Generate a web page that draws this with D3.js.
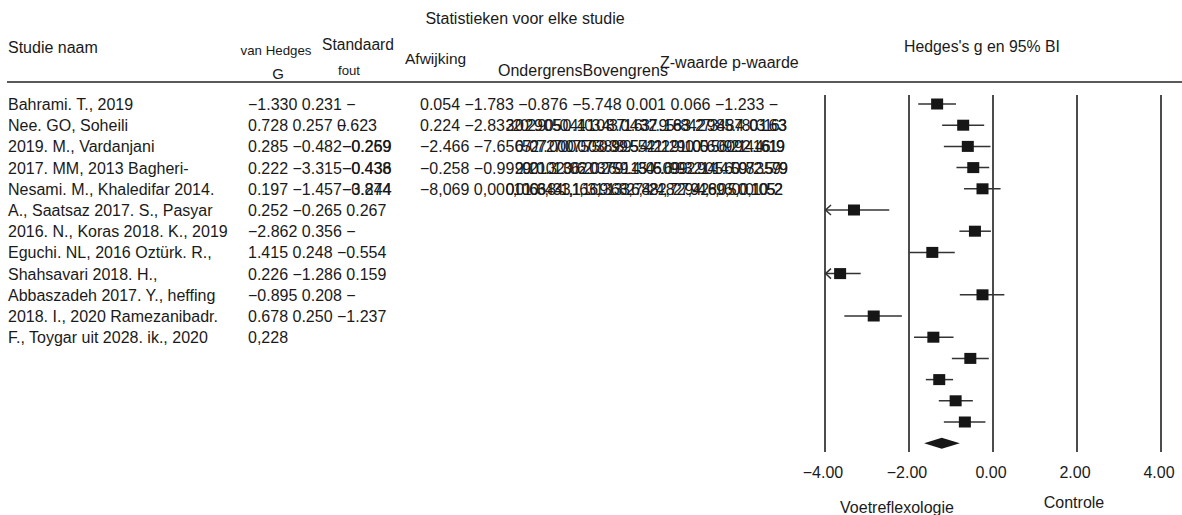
<!DOCTYPE html>
<html>
<head>
<meta charset="utf-8">
<script src="https://cdn.jsdelivr.net/npm/d3@7"></script>
<style>
  body { margin: 0; background: #fff; }
  svg text { font-family: "Liberation Sans", Arial, sans-serif; fill: #1a1a1a; }
</style>
</head>
<body>
<svg id="forest"></svg>
<script>
const width = 1182;
const height = 515;

// study labels (left column, as printed)
const studyNames = [
  'Bahrami. T., 2019', 'Nee. GO, Soheili', '2019. M., Vardanjani', '2017. MM, 2013 Bagheri-',
  'Nesami. M., Khaledifar 2014.', 'A., Saatsaz 2017. S., Pasyar', '2016. N., Koras 2018. K., 2019',
  'Eguchi. NL, 2016 Oztürk. R.,', 'Shahsavari 2018. H.,', 'Abbaszadeh 2017. Y., heffing',
  '2018. I., 2020 Ramezanibadr.', 'F., Toygar uit 2028. ik., 2020'
];

// first statistics block: printed prefix + overprinted endings
const statsAPrefix = [
  '−1.330 0.231 −', '0.728 0.257 ', '0.285 −0.482', '0.222 −3.315', '0.197 −1.457', '0.252 −0.265 0.267',
  '−2.862 0.356 −', '1.415 0.248 −0.554', '0.226 −1.286 0.159', '−0.895 0.208 −', '0.678 0.250 −1.237', '0,228'
];
const statsAEnds = [
  [], ['0.623', '−'], ['−0.269', '−0.259'], ['−0.438', '−0.436'], ['−0.874', '−3.244'], [],
  [], [], [], [], [], []
];

// second statistics block: clean prefix + two overprinted tails
const statsBPrefix = ['0.054 −1.783 −0.876 −5.748 0.001 0.066 −1.233 −', '0.224 −2.83', '−2.466 −7.65', '−0.258 −0.99', '−8,069 0,00'];
const statsBTails = [
  [],
  ['2029050.4108.0437.163.29884.0163', '3202.9050.4103.4371.632.9588427345.7803163'],
  ['0727.0007503899.5542129100.56092.1619', '6507.2700.0750.3895.4212.910056.09214.4619'],
  ['2001.32062.03759.1345.6992.9014.5072.579', '9920.01.30620.2691.4506.0993.2145.6098.3.599'],
  ['01063431,163136827482,7294289600,1052', '0,0106,843,1,16,9133,6,824,827,94,6,0,5,001052']
];
const tailEnds = [0, 787, 785, 788, 783];

// forest plot values: Hedges's g and 95% CI
const hedgesG = [-1.33, -0.71, -0.60, -0.47, -0.25, -3.31, -0.43, -1.445, -3.64, -0.25, -2.84, -1.42, -0.54, -1.28, -0.89, -0.67];
const lowerCI = [-1.78, -1.21, -1.17, -0.87, -0.69, -4.16, -0.80, -1.99, -4.13, -0.79, -3.54, -1.88, -0.98, -1.60, -1.29, -1.17];
const upperCI = [-0.88, -0.21, -0.06, -0.09, 0.18, -2.47, -0.05, -0.91, -3.15, 0.27, -2.17, -0.94, -0.10, -0.95, -0.48, -0.18];
const summary = { g: -1.22, lower: -1.64, upper: -0.79 };

const xTicks = [-4, -2, 0, 2, 4];

const svg = d3.select('#forest')
  .attr('width', width)
  .attr('height', height);

// scales
const xScale = d3.scaleLinear().domain([-4, 4]).range([825, 1161]);
const yScale = d3.scaleLinear().domain([0, 16]).range([104, 443.2]);

// header
svg.append('text').attr('x', 525).attr('y', 24).attr('text-anchor', 'middle')
  .attr('font-size', 16).text('Statistieken voor elke studie');
svg.append('text').attr('x', 8).attr('y', 53).attr('font-size', 16).text('Studie naam');
svg.append('text').attr('x', 276).attr('y', 55).attr('text-anchor', 'middle').attr('font-size', 13.3).text('van Hedges');
svg.append('text').attr('x', 278).attr('y', 79).attr('text-anchor', 'middle').attr('font-size', 15).text('G');
svg.append('text').attr('x', 358).attr('y', 50).attr('text-anchor', 'middle').attr('font-size', 15.6).text('Standaard');
svg.append('text').attr('x', 349).attr('y', 75).attr('text-anchor', 'middle').attr('font-size', 13.2).text('fout');
svg.append('text').attr('x', 405).attr('y', 64).attr('font-size', 15.5).text('Afwijking');
svg.append('text').attr('x', 498).attr('y', 76).attr('font-size', 16).text('OndergrensBovengrens');
svg.append('text').attr('x', 660).attr('y', 68).attr('font-size', 16).text('Z-waarde p-waarde');
svg.append('text').attr('x', 982).attr('y', 52).attr('text-anchor', 'middle').attr('font-size', 15.8).text("Hedges's g en 95% BI");

svg.append('line').attr('x1', 7).attr('x2', width).attr('y1', 82).attr('y2', 82)
  .attr('stroke', '#5a5a5a').attr('stroke-width', 2);

// study names
svg.selectAll('.name').data(studyNames).enter().append('text')
  .attr('class', 'name')
  .attr('x', 8).attr('y', (d, i) => yScale(i) + 6)
  .attr('font-size', 16).text(d => d);

// first stats block: prefix drawn once, endings overprinted
statsAPrefix.forEach((p, i) => {
  const ends = statsAEnds[i].length ? statsAEnds[i] : [''];
  ends.forEach((e, k) => {
    const t = svg.append('text')
      .attr('x', 248 + k * 0.3).attr('y', yScale(i) + 6)
      .attr('font-size', 16).attr('xml:space', 'preserve');
    t.append('tspan').attr('fill-opacity', k === 0 ? 1 : 0).text(p);
    t.append('tspan').text(e);
  });
});

// second stats block
statsBPrefix.forEach((p, i) => {
  const t = svg.append('text').attr('x', 420).attr('y', yScale(i) + 6).attr('font-size', 16).text(p);
  const start = 420 + t.node().getComputedTextLength();
  svg.selectAll(null).data(statsBTails[i]).enter().append('text')
    .attr('x', start + 0.5).attr('y', yScale(i) + 6)
    .attr('font-size', 16)
    .attr('textLength', tailEnds[i] - start - 0.5)
    .attr('lengthAdjust', 'spacing')
    .text(d => d);
});

// vertical reference lines
svg.selectAll('.vline').data(xTicks).enter().append('line')
  .attr('x1', d => xScale(d)).attr('x2', d => xScale(d))
  .attr('y1', 95).attr('y2', 452)
  .attr('stroke', '#111').attr('stroke-width', 1.5);

// tick labels
svg.selectAll('.tick').data(xTicks).enter().append('text')
  .attr('x', d => xScale(d) - 2).attr('y', 478)
  .attr('text-anchor', 'middle').attr('font-size', 16)
  .text(d => d3.format('.2f')(d).replace('-', '−'));

svg.append('text').attr('x', 897).attr('y', 513).attr('text-anchor', 'middle').attr('font-size', 16).text('Voetreflexologie');
svg.append('text').attr('x', 1074).attr('y', 508).attr('text-anchor', 'middle').attr('font-size', 16).text('Controle');

// confidence intervals
const rows = hedgesG.map((g, i) => ({ g, lo: lowerCI[i], hi: upperCI[i], i }));
const xMin = xScale.domain()[0];

svg.selectAll('.ci').data(rows).enter().append('line')
  .attr('x1', d => xScale(Math.max(d.lo, xMin))).attr('x2', d => xScale(d.hi))
  .attr('y1', d => yScale(d.i)).attr('y2', d => yScale(d.i))
  .attr('stroke', '#333').attr('stroke-width', 1.5);

// arrowheads for clipped intervals
svg.selectAll('.arrow').data(rows.filter(d => d.lo < xMin)).enter().append('path')
  .attr('d', d => {
    const x = xScale(xMin), y = yScale(d.i);
    return `M${x + 6},${y - 5} L${x + 0.5},${y} L${x + 6},${y + 5}`;
  })
  .attr('fill', 'none').attr('stroke', '#333').attr('stroke-width', 1.5);

// squares
svg.selectAll('.box').data(rows).enter().append('rect')
  .attr('x', d => xScale(d.g) - 6).attr('y', d => yScale(d.i) - 5.5)
  .attr('width', 12).attr('height', 11)
  .attr('fill', '#161616');

// summary diamond
const yS = yScale(16);
svg.append('path')
  .attr('d', `M${xScale(summary.lower)},${yS} L${xScale(summary.g)},${yS - 5.5} L${xScale(summary.upper)},${yS} L${xScale(summary.g)},${yS + 5.5} Z`)
  .attr('fill', '#161616');
</script>
</body>
</html>
